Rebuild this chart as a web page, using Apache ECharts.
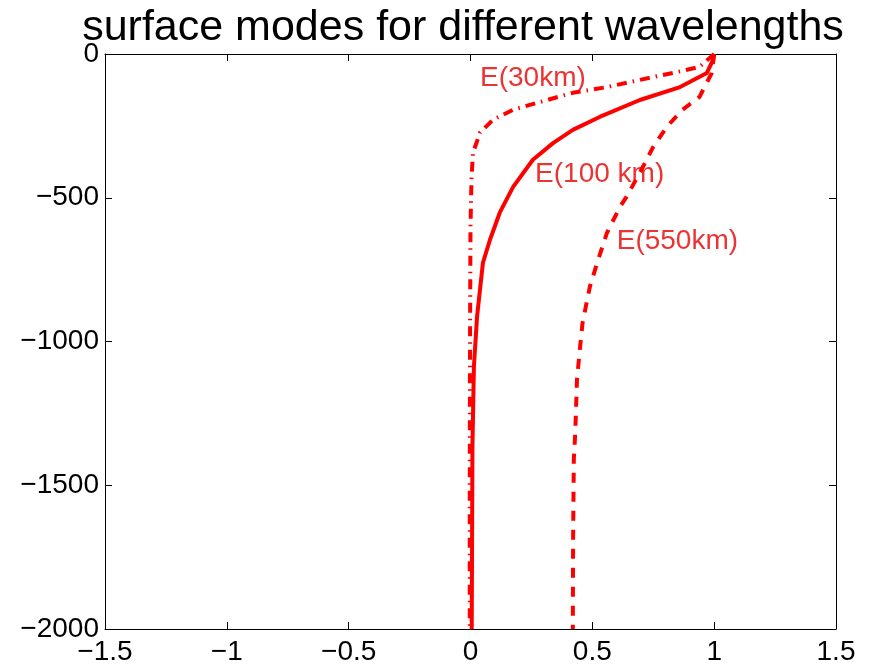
<!DOCTYPE html>
<html>
<head>
<meta charset="utf-8">
<title>surface modes for different wavelengths</title>
<script src="https://cdn.jsdelivr.net/npm/echarts@6/dist/echarts.min.js"></script>
<style>
  html, body { margin: 0; padding: 0; background: #fff; }
  #chart { width: 871px; height: 666px; }
</style>
</head>
<body>
<div id="chart"></div>
<script>
// Vertical structure of surface modes: normalised amplitude vs depth (m)
const e30Depth   = [0, -45, -66, -90, -115, -135, -167, -194, -229, -274, -344, -437, -600, -1000, -1500, -2000];
const e30Amp     = [1.0, 0.94, 0.83, 0.695, 0.56, 0.42, 0.285, 0.174, 0.092, 0.039, 0.01, 0.004, 0.0, -0.002, -0.003, -0.003];

const e100Depth  = [0, -21, -66, -115, -160, -219, -264, -309, -368, -462, -552, -646, -726, -913, -1087, -1365, -2000];
const e100Amp    = [1.0, 0.995, 0.97, 0.86, 0.695, 0.53, 0.42, 0.34, 0.256, 0.175, 0.12, 0.08, 0.051, 0.027, 0.014, 0.008, 0.005];

const e550Depth  = [0, -66, -149, -194, -253, -323, -413, -497, -531, -622, -726, -809, -934, -1017, -1132, -1316, -1410, -1700, -2000];
const e550Amp    = [1.0, 0.99, 0.94, 0.87, 0.806, 0.75, 0.695, 0.64, 0.614, 0.56, 0.52, 0.49, 0.46, 0.45, 0.437, 0.43, 0.424, 0.421, 0.42];

// Curve labels and where they sit (amplitude, depth)
const curveNames = ['E(30km)', 'E(100 km)', 'E(550km)'];
const labelAt    = [[0.039, -83], [0.265, -417], [0.60, -653]];

const xTicks = { min: -1.5, max: 1.5, step: 0.5 };
const yTicks = { min: -2000, max: 0, step: 500 };

const FONT = 'Liberation Sans, Arial, Helvetica, sans-serif';
const RED = '#ff0000';

const pairs = (xs, ys) => xs.map((x, i) => [x, ys[i]]);
const minusSign = v => String(v).replace('-', '\u2212');

const chart = echarts.init(document.getElementById('chart'), null, { renderer: 'canvas' });

const axisCommon = {
  type: 'value',
  axisLine: { show: true, onZero: false, lineStyle: { color: '#000', width: 1 } },
  axisTick: { show: true, inside: true, length: 7, lineStyle: { color: '#000', width: 1 } },
  splitLine: { show: false }
};

chart.setOption({
  animation: false,
  backgroundColor: '#fff',
  title: {
    text: 'surface modes for different wavelengths',
    left: 458,
    textAlign: 'center',
    top: 2,
    textStyle: { fontFamily: FONT, fontSize: 43, fontWeight: 'normal', color: '#000' }
  },
  grid: { left: 105, right: 35, top: 54, bottom: 36 },
  xAxis: [
    Object.assign({}, axisCommon, {
      position: 'bottom',
      min: xTicks.min, max: xTicks.max, interval: xTicks.step,
      axisLabel: { show: true, margin: 9, color: '#000', fontFamily: FONT, fontSize: 28, formatter: minusSign }
    }),
    Object.assign({}, axisCommon, {
      position: 'top',
      min: xTicks.min, max: xTicks.max, interval: xTicks.step,
      axisLabel: { show: false }
    })
  ],
  yAxis: [
    Object.assign({}, axisCommon, {
      position: 'left',
      min: yTicks.min, max: yTicks.max, interval: yTicks.step,
      axisLabel: { show: true, margin: 6, color: '#000', fontFamily: FONT, fontSize: 28, formatter: minusSign }
    }),
    Object.assign({}, axisCommon, {
      position: 'right',
      min: yTicks.min, max: yTicks.max, interval: yTicks.step,
      axisLabel: { show: false }
    })
  ],
  series: [
    {
      name: curveNames[0], type: 'line', showSymbol: false, smooth: false,
      data: pairs(e30Amp, e30Depth),
      lineStyle: { color: RED, width: 4, type: [10, 6, 1.5, 6] }
    },
    {
      name: curveNames[1], type: 'line', showSymbol: false, smooth: false,
      data: pairs(e100Amp, e100Depth),
      lineStyle: { color: RED, width: 4, type: 'solid', join: 'round' }
    },
    {
      name: curveNames[2], type: 'line', showSymbol: false, smooth: false,
      data: pairs(e550Amp, e550Depth),
      lineStyle: { color: RED, width: 4, type: [10, 9] }
    },
    {
      name: 'labels', type: 'scatter', symbolSize: 0, silent: true,
      data: labelAt.map((p, i) => ({ value: p, name: curveNames[i] })),
      label: {
        show: true, position: 'right', distance: 0,
        formatter: p => p.name,
        color: '#e60000', fontFamily: FONT, fontSize: 28
      }
    }
  ]
});
</script>
</body>
</html>
